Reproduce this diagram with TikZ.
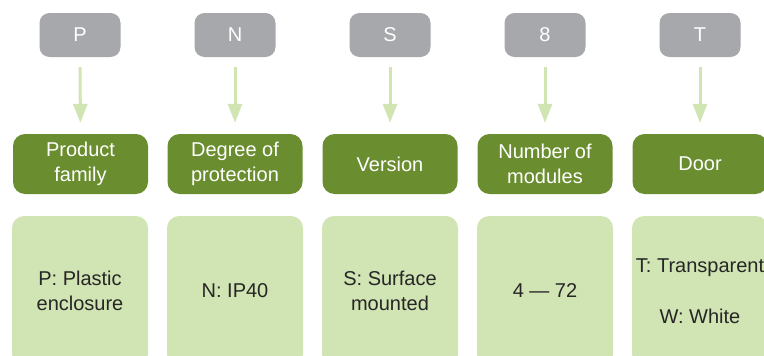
\documentclass[tikz,border=0pt]{standalone}
\usepackage{fontspec}
\setmainfont{Liberation Sans}
\usetikzlibrary{arrows.meta}
\definecolor{codegray}{HTML}{A7A8AB}
\definecolor{darkgreen}{HTML}{6A8E2F}
\definecolor{lightgreen}{HTML}{D1E4B3}
\definecolor{arrowgreen}{HTML}{D0E5B2}
\definecolor{darktext}{HTML}{262626}
\tikzset{
  codebox/.style={fill=codegray, rounded corners=10pt, minimum width=81pt, minimum height=44pt, inner sep=0pt, text=white, font=\fontsize{20}{25}\selectfont},
  catbox/.style={fill=darkgreen, rounded corners=12pt, minimum width=135pt, minimum height=60pt, inner sep=0pt, text=white, align=center, font=\fontsize{20}{25}\selectfont},
  valbox/.style={fill=lightgreen, rounded corners=12pt, minimum width=136pt, minimum height=150pt, inner sep=0pt, text=darktext, align=center, font=\fontsize{20}{25}\selectfont},
  conn/.style={draw=arrowgreen, line width=3pt, -{Triangle[width=14pt,length=19pt]}, shorten <=10pt, shorten >=11pt}
}
\begin{document}
\begin{tikzpicture}[x=1pt,y=-1pt]
\useasboundingbox (0,0) rectangle (764,356);
\clip (0,0) rectangle (764,356);
\node[codebox] (c1) at (80,35) {P};
\node[codebox] (c2) at (235,35) {N};
\node[codebox] (c3) at (390,35) {S};
\node[codebox] (c4) at (545,35) {8};
\node[codebox] (c5) at (700,35) {T};
\node[catbox] (k1) at (80.5,164) {Product\\family};
\node[catbox] (k2) at (235,164) {Degree of\\protection};
\node[catbox] (k3) at (390,164) {Version};
\node[catbox] (k4) at (545,164) {Number of\\modules};
\node[catbox] (k5) at (700,164) {Door};
\node[valbox] (v1) at (80,291) {P: Plastic\\enclosure};
\node[valbox] (v2) at (235,291) {N: IP40};
\node[valbox] (v3) at (390,291) {S: Surface\\mounted};
\node[valbox] (v4) at (545,291) {4 — 72};
\node[valbox] (v5) at (700,291) {T: Transparent\\[26pt]W: White};
\foreach \i in {1,...,5} {
  \draw[conn] (c\i) -- (k\i);
}
\end{tikzpicture}
\end{document}
